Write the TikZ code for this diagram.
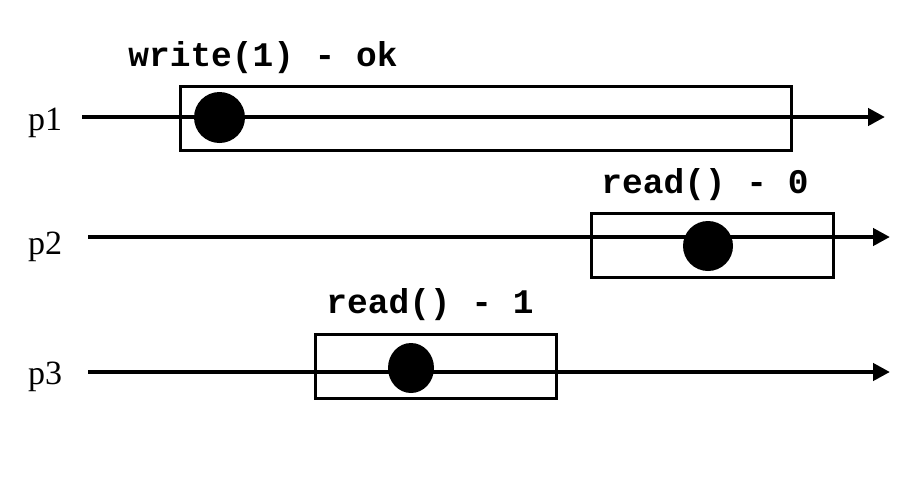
\documentclass[tikz,border=0pt]{standalone}
\usepackage{fontspec}
\setmainfont{Liberation Serif}
\setmonofont{Liberation Mono}
\usetikzlibrary{arrows.meta,shapes.geometric}
\begin{document}
\begin{tikzpicture}[x=1pt,y=-1pt,
  proc/.style={font=\fontsize{34}{40}\selectfont, anchor=base, inner sep=0pt},
  oplabel/.style={font=\ttfamily\bfseries\fontsize{34.5}{40}\selectfont, anchor=base, inner sep=0pt},
  timeline/.style={line width=4.5pt, -{Triangle[length=17pt,width=17pt]}},
  opbox/.style={draw, line width=3pt, inner sep=0pt},
  evt/.style={fill=black, inner sep=0pt},
]
\useasboundingbox (0,0) rectangle (922,501);
% process labels
\node[proc] (p1) at (45,130) {p1};
\node[proc] (p2) at (45,254) {p2};
\node[proc] (p3) at (45,384) {p3};
% timelines
\coordinate (s1) at (82,117);  \coordinate (e1) at (885,117);
\coordinate (s2) at (88,237);  \coordinate (e2) at (890,237);
\coordinate (s3) at (88,372);  \coordinate (e3) at (890,372);
\draw[timeline] (s1) -- (e1);
\draw[timeline] (s2) -- (e2);
\draw[timeline] (s3) -- (e3);
% operation boxes
\node[opbox, minimum width=611pt, minimum height=64pt] (b1) at (485.5,118) {};
\node[opbox, minimum width=242pt, minimum height=64pt] (b2) at (712,245) {};
\node[opbox, minimum width=241pt, minimum height=64pt] (b3) at (435.5,366) {};
% events
\node[evt, circle, minimum size=51pt] (d1) at (219.5,117.5) {};
\node[evt, circle, minimum size=50pt] (d2) at (708,246) {};
\node[evt, ellipse, minimum width=46pt, minimum height=50pt] (d3) at (411,368) {};
% operation labels
\node[oplabel] (l1) at (263,66) {write(1) - ok};
\node[oplabel] (l2) at (705,193) {read() - 0};
\node[oplabel] (l3) at (430,313) {read() - 1};
\end{tikzpicture}
\end{document}
